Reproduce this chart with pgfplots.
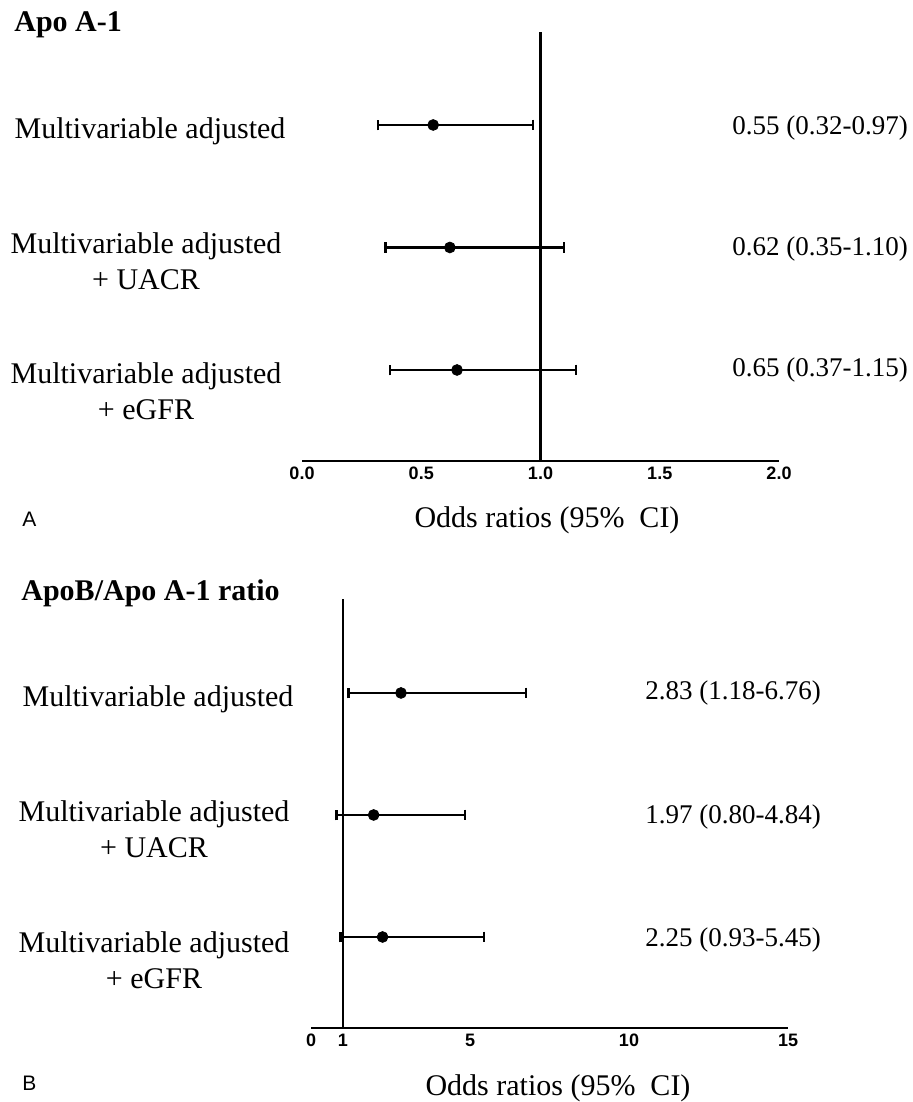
\documentclass[border=0pt]{standalone}
\usepackage{fontspec}
\setmainfont{Liberation Serif}
\setsansfont{Liberation Sans}
\usepackage{pgfplots}
\pgfplotsset{compat=1.18}
\begin{document}
\begin{tikzpicture}
\path[use as bounding box] (0pt,0pt) rectangle (456.5pt,-551pt);
\pgfplotsset{
  forest/.style={
    scale only axis,
    width=238.5pt,
    height=214.5pt,
    anchor=south west,
    axis x line*=bottom,
    axis y line=none,
    x axis line style={line width=1.2pt,-},
    major tick length=0pt,
    clip=false,
    ytick=\empty,
    xticklabel style={font=\fontsize{9}{10}\selectfont\bfseries\sffamily, anchor=base, yshift=-9.3pt},
    /pgf/number format/assume math mode=true,
  },
  ci/.style={
    only marks, mark=*, mark size=2.7pt, black,
    error bars/.cd, x dir=both, x explicit,
    error mark=|,
    error bar style={line width=1.2pt, black},
    error mark options={line width=1.1pt, mark size=2.7pt, black}
  }
}
% ---------- Panel A ----------
\begin{axis}[forest, at={(151pt,-230.5pt)},
  xmin=0, xmax=2, ymin=-3.743, ymax=-0.241,
  xtick={0,0.5,1,1.5,2},
  xticklabels={0.0,0.5,1.0,1.5,2.0}]
\addplot[line width=1.2pt, black, no marks] coordinates {(1,-3.743) (1,-0.241)};
\addplot[ci] coordinates {
  (0.55,-1) += (0.42,0) -= (0.23,0)
  (0.62,-2) += (0.48,0) -= (0.27,0)
  (0.65,-3) += (0.50,0) -= (0.28,0)
};
\end{axis}
\node[anchor=base west, font=\fontsize{15}{18}\selectfont\bfseries, inner sep=0pt] at (7pt,-16pt) {Apo A-1};
\node[font=\fontsize{15}{18}\selectfont, inner sep=0pt] at (75pt,-65.5pt) {Multivariable adjusted};
\node[font=\fontsize{15}{18}\selectfont, align=center, inner sep=0pt] at (73pt,-130.5pt) {Multivariable adjusted\\+ UACR};
\node[font=\fontsize{15}{18}\selectfont, align=center, inner sep=0pt] at (73pt,-195.75pt) {Multivariable adjusted\\+ eGFR};
\node[anchor=west, font=\fontsize{13.5}{16}\selectfont, inner sep=0pt] at (366pt,-64pt) {0.55 (0.32-0.97)};
\node[anchor=west, font=\fontsize{13.5}{16}\selectfont, inner sep=0pt] at (366pt,-124.5pt) {0.62 (0.35-1.10)};
\node[anchor=west, font=\fontsize{13.5}{16}\selectfont, inner sep=0pt] at (366pt,-185pt) {0.65 (0.37-1.15)};
\node[anchor=west, font=\fontsize{10.5}{12}\selectfont\sffamily, inner sep=0pt] at (11pt,-259.5pt) {A};
\node[font=\fontsize{15}{18}\selectfont, inner sep=0pt] at (273.5pt,-260pt) {Odds ratios (95\%\ \ CI)};
% ---------- Panel B ----------
\begin{axis}[forest, at={(155.5pt,-514pt)},
  xmin=0, xmax=15, ymin=-3.746, ymax=-0.23,
  xtick={0,1,5,10,15},
  xticklabels={0,1,5,10,15}]
\addplot[line width=1.2pt, black, no marks] coordinates {(1,-3.746) (1,-0.23)};
\addplot[ci] coordinates {
  (2.83,-1) += (3.93,0) -= (1.65,0)
  (1.97,-2) += (2.87,0) -= (1.17,0)
  (2.25,-3) += (3.20,0) -= (1.32,0)
};
\end{axis}
\node[anchor=base west, font=\fontsize{15}{18}\selectfont\bfseries, inner sep=0pt] at (10.5pt,-300pt) {ApoB/Apo A-1 ratio};
\node[font=\fontsize{15}{18}\selectfont, inner sep=0pt] at (79pt,-349.5pt) {Multivariable adjusted};
\node[font=\fontsize{15}{18}\selectfont, align=center, inner sep=0pt] at (77pt,-414.75pt) {Multivariable adjusted\\+ UACR};
\node[font=\fontsize{15}{18}\selectfont, align=center, inner sep=0pt] at (77pt,-480.25pt) {Multivariable adjusted\\+ eGFR};
\node[anchor=west, font=\fontsize{13.5}{16}\selectfont, inner sep=0pt] at (322.5pt,-346.5pt) {2.83 (1.18-6.76)};
\node[anchor=west, font=\fontsize{13.5}{16}\selectfont, inner sep=0pt] at (322.5pt,-408.5pt) {1.97 (0.80-4.84)};
\node[anchor=west, font=\fontsize{13.5}{16}\selectfont, inner sep=0pt] at (322.5pt,-470pt) {2.25 (0.93-5.45)};
\node[anchor=west, font=\fontsize{10.5}{12}\selectfont\sffamily, inner sep=0pt] at (11pt,-541.5pt) {B};
\node[font=\fontsize{15}{18}\selectfont, inner sep=0pt] at (279pt,-544pt) {Odds ratios (95\%\ \ CI)};
\end{tikzpicture}
\end{document}
